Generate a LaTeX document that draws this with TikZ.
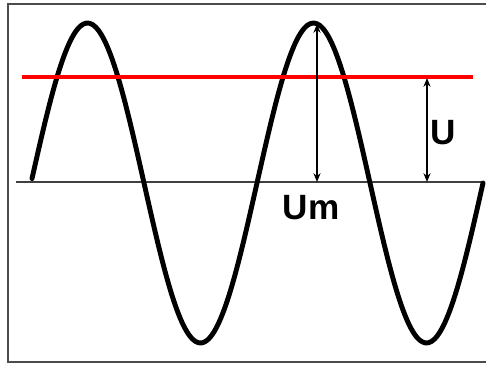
\documentclass[tikz,border=0pt]{standalone}
\usepackage{fontspec}
\setmainfont{Liberation Sans}
\usetikzlibrary{arrows.meta}

\begin{document}
\begin{tikzpicture}[
    x=0.02cm, y=-0.02cm,
    frame/.style={draw=black!70, line width=0.9pt},
    axis/.style={draw=black!75, line width=0.9pt},
    wave/.style={line width=2.8pt, line join=round, line cap=round},
    level/.style={draw=red, line width=2pt},
    measure/.style={{Stealth[length=5pt,width=4pt]}-{Stealth[length=5pt,width=4pt]}, line width=0.6pt},
    lbl/.style={font=\fontsize{20}{22}\selectfont\bfseries, inner sep=0pt}
]
    \useasboundingbox (0,0) rectangle (486,365);

    % Frame
    \draw[frame] (490,4) -- (8,4) -- (8,362) -- (490,362);

    % Axis
    \draw[axis] (16,182) -- (483,182);

    % Sine wave
    \draw[wave] plot[domain=32:483, samples=150, smooth] (\x, {183-160*sin((\x-31)/226*360)});

    % Effective value line
    \draw[level] (22,77) -- (473,77);

    % Measures
    \coordinate (peak) at (317,24);
    \coordinate (peakbase) at (317,182);
    \coordinate (eff) at (427,78);
    \coordinate (effbase) at (427,182);
    \draw[measure] (peak) -- (peakbase);
    \draw[measure] (eff) -- (effbase);

    % Labels
    \node[lbl] (um) at (311,208) {Um};
    \node[lbl] (u) at (443,133) {U};
\end{tikzpicture}
\end{document}
